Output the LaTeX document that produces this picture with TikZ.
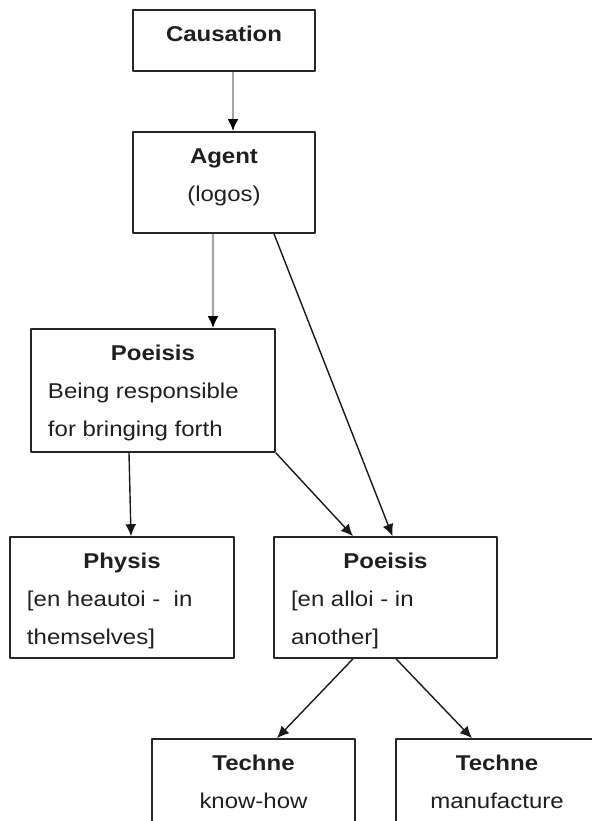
\documentclass[tikz,border=0pt]{standalone}
\usepackage{fontspec}
\setmainfont{Liberation Sans}[FakeStretch=1.12]
\usepackage{tikz}
\usetikzlibrary{arrows.meta}

\newcommand\boxtext[3]{\parbox[c][#2][t]{#1}{\fontsize{21.5}{38}\selectfont #3}}
\newcommand\heading[1]{{\centering\rule{0pt}{32bp}\textbf{#1}\par}}

\begin{document}
\begin{tikzpicture}[>={Latex[length=12bp,width=11bp]},line join=bevel]
  \tikzset{cell/.style={draw=black!85, line width=1.6bp, inner sep=0pt, text=black!88},
    link/.style={->, draw=black!90, line width=1.4bp},
    greylink/.style={-{Latex[length=12bp,width=11bp,color=black]}, draw=black!35, line width=2.4bp}}
  \useasboundingbox (0bp,0bp) rectangle (592bp,821bp);
%%
  % Node: caus
  \node[cell] (caus) at (224bp,780.5bp) {\boxtext{182bp}{61bp}{\heading{Causation}}};
  % Node: agent
  \node[cell] (agent) at (224bp,638.5bp) {\boxtext{182bp}{101bp}{\heading{Agent}{\centering (logos)\par}}};
  % Node: poe1
  \node[cell] (poe1) at (153bp,430.5bp) {\boxtext{244bp}{123bp}{\heading{Poeisis}%
    {\raggedright\leftskip=17bp Being responsible\\for bringing forth\par}}};
  % Node: phys
  \node[cell] (phys) at (122bp,223.5bp) {\boxtext{224bp}{121bp}{\heading{Physis}%
    {\raggedright\leftskip=17bp [en heautoi -\ \ in\\themselves]\par}}};
  % Node: poe2
  \node[cell] (poe2) at (385.5bp,223.5bp) {\boxtext{223bp}{121bp}{\heading{Poeisis}%
    {\raggedright\leftskip=17bp [en alloi - in\\another]\par}}};
  % Node: tech1
  \node[cell] (tech1) at (253.5bp,21.5bp) {\boxtext{203bp}{121bp}{\heading{Techne}{\centering know-how\par}}};
  % Node: tech2
  \node[cell] (tech2) at (497bp,21.5bp) {\boxtext{202bp}{121bp}{\heading{Techne}{\centering manufacture\par}}};
%%
  % Edge: caus -- agent
  \draw[greylink] ([xshift=9bp]caus.south) -- ([xshift=9bp]agent.north);
  % Edge: agent -- poe1
  \draw[greylink] ([xshift=-11bp]agent.south) -- ([xshift=60bp]poe1.north);
  % Edge: agent -- poe2
  \draw[link] ([xshift=50bp]agent.south) -- ([xshift=7bp]poe2.north);
  % Edge: poe1 -- phys
  \draw[link] ([xshift=-24bp]poe1.south) -- ([xshift=9bp]phys.north);
  % Edge: poe1 -- poe2
  \draw[link] (poe1.south east) -- ([xshift=-32.5bp]poe2.north);
  % Edge: poe2 -- tech1
  \draw[link] ([xshift=-32.5bp]poe2.south) -- ([xshift=23.5bp]tech1.north);
  % Edge: poe2 -- tech2
  \draw[link] ([xshift=10.5bp]poe2.south) -- ([xshift=-25bp]tech2.north);
%
\end{tikzpicture}
\end{document}
